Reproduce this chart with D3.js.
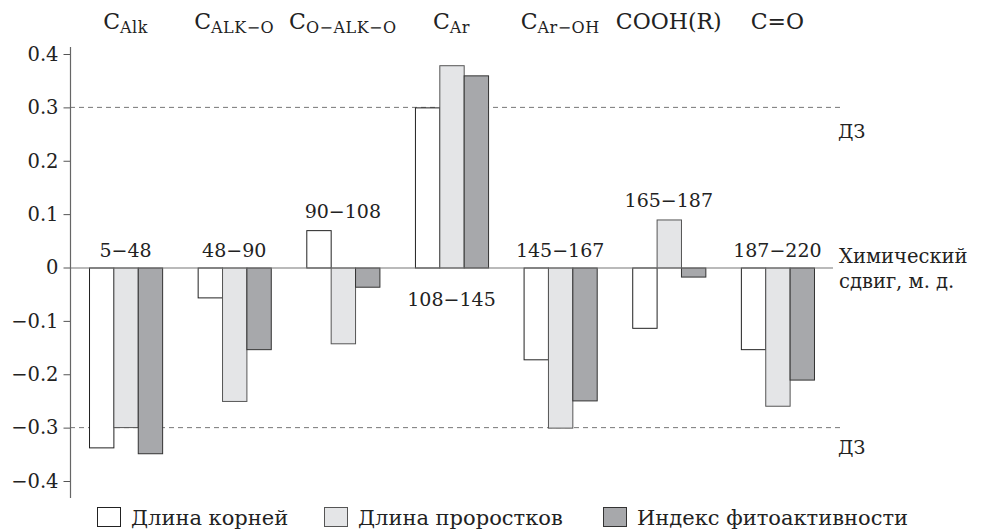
<!DOCTYPE html>
<html><head><meta charset="utf-8">
<script src="https://cdn.jsdelivr.net/npm/d3@7"></script>
<style>body{margin:0;background:#fff}svg{display:block}text{font-family:"DejaVu Serif",serif;fill:#222}</style>
</head><body><svg id="c" width="981" height="531"></svg>
<script>
const groups = ["g1","g2","g3","g4","g5","g6","g7"];
const topMain = ["C","C","C","C","C","COOH(R)","C=O"];
const topSub = ["Alk","ALK−O","O−ALK−O","Ar","Ar−OH","",""];
const ranges = ["5−48","48−90","90−108","108−145","145−167","165−187","187−220"];
const rangeSide = ["top","top","top","bottom","top","top","top"];
const series = ["Длина корней","Длина проростков","Индекс фитоактивности"];
const roots   = [-0.337,-0.056, 0.070, 0.300,-0.172,-0.113,-0.153];
const shoots  = [-0.299,-0.250,-0.142, 0.379,-0.300, 0.090,-0.259];
const index   = [-0.348,-0.153,-0.036, 0.360,-0.249,-0.017,-0.210];
const yTicks = [0.4,0.3,0.2,0.1,0,-0.1,-0.2,-0.3,-0.4];
const thresholds = [0.3,-0.3];
const fills = ["#ffffff","#e4e5e7","#a7a8ab"];
const strokes = ["#222","#555","#333"];

const values = [roots, shoots, index];
const svg = d3.select("#c");
const y = d3.scaleLinear().domain([-0.4,0.4]).range([481,54]);
const x0 = d3.scaleBand().domain(groups).range([70,833]).paddingInner(0.327).paddingOuter(0.175);
const x1 = d3.scaleBand().domain(series).range([0,x0.bandwidth()]);

svg.selectAll(".thr").data(thresholds).enter().append("line")
  .attr("x1",70).attr("x2",843).attr("y1",d=>y(d)).attr("y2",d=>y(d))
  .attr("stroke","#777").attr("stroke-width",1).attr("stroke-dasharray","5,4");
svg.selectAll(".dz").data(thresholds).enter().append("text")
  .attr("x",838).attr("y",d=>y(d)+(d>0?31:26)).attr("font-size",19).text("ДЗ");

const data = [];
groups.forEach((g,i)=>series.forEach((s,j)=>data.push({g,s,j,v:values[j][i]})));
svg.selectAll(".bar").data(data).enter().append("rect")
  .attr("x",d=>x0(d.g)+x1(d.s)+0.5)
  .attr("width",x1.bandwidth())
  .attr("y",d=>Math.min(y(d.v),y(0))+0.5)
  .attr("height",d=>Math.abs(y(d.v)-y(0)))
  .attr("fill",d=>fills[d.j]).attr("stroke",d=>strokes[d.j]).attr("stroke-width",1);

svg.append("line").attr("x1",70).attr("x2",833).attr("y1",y(0)+0.5).attr("y2",y(0)+0.5)
  .attr("stroke","#777").attr("stroke-width",1.2);

const ax = svg.append("g").attr("transform","translate(70.5,0)")
  .call(d3.axisLeft(y).tickValues(yTicks).tickSize(7).tickPadding(5)
    .tickFormat(d=>d===0?"0":(d<0?"−":"")+Math.abs(d).toFixed(1)));
ax.select(".domain").remove();
ax.selectAll("line").attr("stroke","#555");
ax.selectAll("text").attr("font-size",19.5).attr("fill","#222").attr("font-family","DejaVu Serif, serif");
svg.append("line").attr("x1",70.5).attr("x2",70.5).attr("y1",47).attr("y2",498).attr("stroke","#666").attr("stroke-width",1.2);

svg.selectAll(".rl").data(groups).enter().append("text")
  .attr("text-anchor","middle").attr("font-size",19)
  .attr("x",g=>x0(g)+x0.bandwidth()/2)
  .attr("y",(g,i)=>{
    if(rangeSide[i]==="bottom") return y(0)+38;
    const mx = Math.max(0, roots[i], shoots[i], index[i]);
    return y(mx) - (mx>0?12:11);
  })
  .text((g,i)=>ranges[i]);

const tl = svg.selectAll(".tl").data(groups).enter().append("text")
  .attr("text-anchor","middle").attr("x",g=>x0(g)+x0.bandwidth()/2).attr("y",29);
tl.append("tspan").attr("font-size",22).text((g,i)=>topMain[i]);
tl.append("tspan").attr("font-size",16).attr("letter-spacing",0.5).attr("dy",4).text((g,i)=>topSub[i]);

svg.append("text").attr("x",839).attr("y",263).attr("font-size",19.5).text("Химический");
svg.append("text").attr("x",839).attr("y",288).attr("font-size",19.5).text("сдвиг, м. д.");

const legX = [97,324,603];
const lg = svg.selectAll(".lg").data(series).enter().append("g")
  .attr("transform",(d,i)=>`translate(${legX[i]},507)`);
lg.append("rect").attr("x",0.5).attr("y",0.5).attr("width",23).attr("height",19)
  .attr("fill",(d,i)=>fills[i]).attr("stroke",(d,i)=>strokes[i]);
lg.append("text").attr("x",34).attr("y",18).attr("font-size",21).text(d=>d);
</script></body></html>
